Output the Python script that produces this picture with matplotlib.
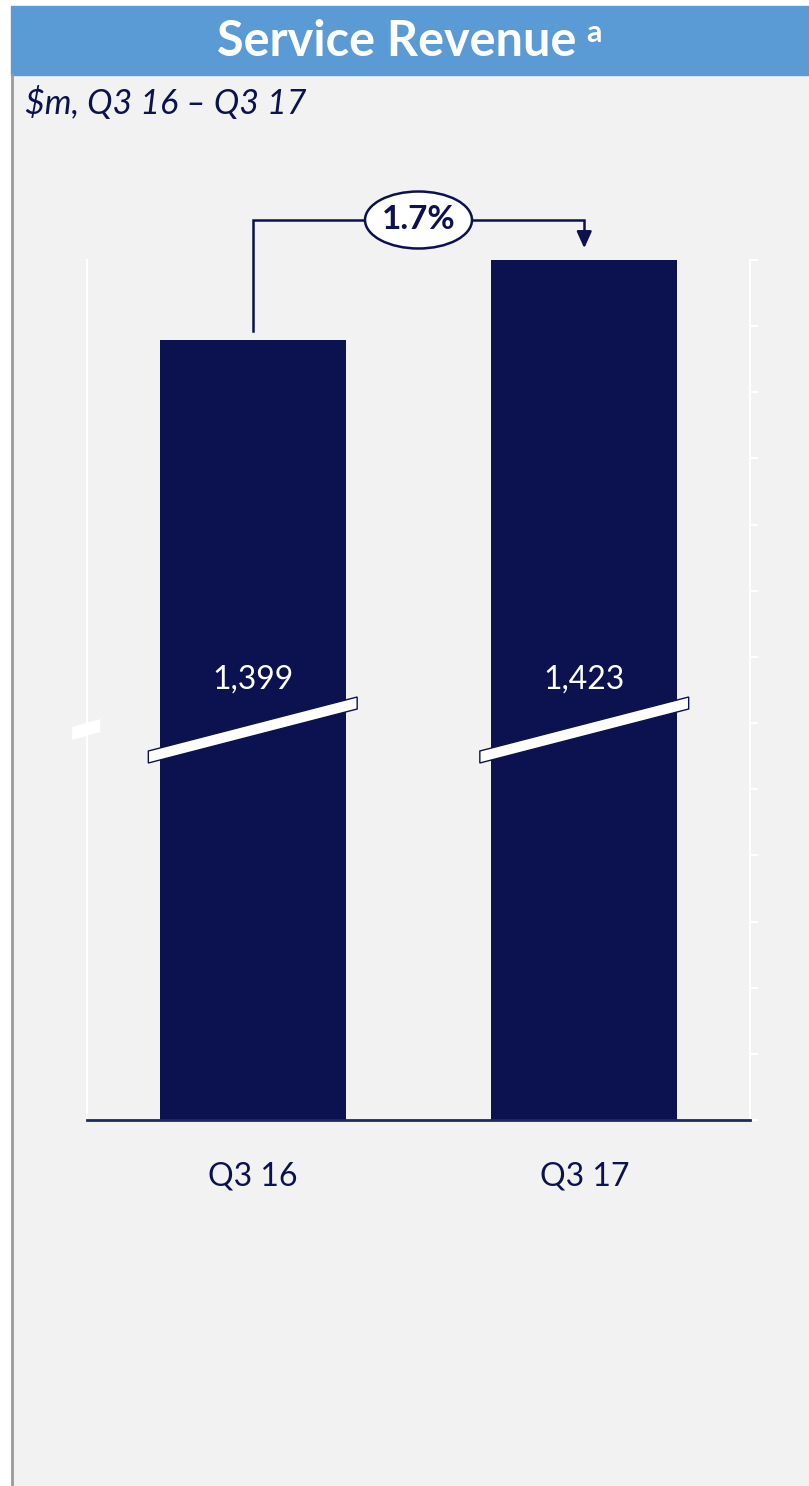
import numpy as np
import matplotlib.pyplot as plt
from matplotlib.patches import Rectangle, Ellipse, Polygon

plt.rcParams['font.family'] = ['Lato', 'DejaVu Sans']

# Service revenue, $m
quarters = ['Q3 16', 'Q3 17']
revenue = [1399, 1423]
value_labels = ['1,399', '1,423']

navy = '#0C1150'
header_blue = '#5B9BD5'
panel_grey = '#F2F2F2'

W, H = 809, 1486
fig = plt.figure(figsize=(W / 100, H / 100), dpi=100, facecolor='white')

# panel background, header bar and left border (kept behind the axes)
fig.patches.append(Rectangle((11 / W, 0), 1 - 11 / W, 1 - 75 / H,
                             transform=fig.transFigure, color=panel_grey, zorder=-3))
fig.patches.append(Rectangle((11 / W, 1 - 75 / H), 1 - 11 / W, 69 / H,
                             transform=fig.transFigure, color=header_blue, zorder=-3))
fig.lines.append(plt.Line2D([11.5 / W, 11.5 / W], [0, 1 - 75 / H], transform=fig.transFigure,
                            color='#9A9A9A', lw=2, zorder=-2))

fig.text(397 / W, 1 - 41 / H, 'Service Revenue', color='white', fontsize=35,
         fontweight='bold', ha='center', va='center')
fig.text(594 / W, 1 - 33 / H, 'a', color='white', fontsize=22,
         fontweight='bold', ha='center', va='center')
fig.text(25 / W, 1 - 103 / H, '$m, Q3 16 – Q3 17', color=navy, fontsize=24.5,
         fontstyle='italic', ha='left', va='center')

ax = fig.add_axes([87 / W, 1 - 1120 / H, 663 / W, 860 / H])
ax.set_facecolor('none')

# broken axis: bottom of the scale starts well above zero
y_lo, y_hi = 1165, 1423
ax.set_xlim(-0.5, 1.5)
ax.set_ylim(y_lo, y_hi)
x = np.arange(len(quarters))
bar_w = 0.56
ax.bar(x, revenue, width=bar_w, color=navy, zorder=2)

ax.set_xticks(x)
ax.set_xticklabels(quarters, fontsize=23, color=navy)
ax.tick_params(axis='x', length=0, pad=30)

ax.spines['top'].set_visible(False)
ax.spines['left'].set_color('white')
ax.spines['left'].set_linewidth(1.5)
ax.spines['right'].set_color('white')
ax.spines['right'].set_linewidth(1.5)
ax.spines['bottom'].set_color('#1F2A5C')
ax.spines['bottom'].set_linewidth(2)
ax.spines['bottom'].set_zorder(3)

ax.yaxis.set_ticks_position('right')
ax.set_yticks(np.linspace(y_lo, y_hi, 14))
ax.tick_params(axis='y', direction='out', length=6, width=1.5, color='white',
               labelright=False, labelleft=False)

span = y_hi - y_lo
# value labels and break marks across each bar
break_y = y_lo + span * (1120 - 736) / 860
slope = span * 54 / 860
for xi, lab in zip(x, value_labels):
    ax.text(xi, y_lo + span * (1120 - 680) / 860, lab, color='white', fontsize=23,
            ha='center', va='center', zorder=4)
    x0, x1 = xi - 0.315, xi + 0.315
    th = span * 12 / 860
    pts = [(x0, break_y - slope / 2), (x1, break_y + slope / 2),
           (x1, break_y + slope / 2 + th), (x0, break_y - slope / 2 + th)]
    ax.add_patch(Polygon(pts, closed=True, facecolor='white', edgecolor=navy,
                         lw=1, zorder=5, clip_on=False))

# break mark on the left axis
xl0, xl1 = -0.5 - 0.045, -0.5 + 0.04
by = y_lo + span * (1120 - 736) / 860
s2 = span * 8 / 860
th2 = span * 13 / 860
ax.add_patch(Polygon([(xl0, by - s2 / 2), (xl1, by + s2 / 2), (xl1, by + s2 / 2 + th2),
                      (xl0, by - s2 / 2 + th2)], closed=True, facecolor='white',
                     edgecolor='none', zorder=5, clip_on=False))

# growth bracket between the two bars
top_y = revenue[1] + span * 40 / 860
start_y = revenue[0] + span * 9 / 860
end_y = revenue[1] + span * 9 / 860
ax.plot([x[0], x[0], x[1], x[1]], [start_y, top_y, top_y, end_y + span * 14 / 860],
        color=navy, lw=1.8, clip_on=False, zorder=3, solid_joinstyle='miter')
ax.annotate('', xy=(x[1], end_y), xytext=(x[1], end_y + span * 16 / 860),
            arrowprops=dict(arrowstyle='-|>,head_width=0.45,head_length=1.0',
                            color=navy, lw=1.8), annotation_clip=False)
growth = (revenue[1] / revenue[0] - 1) * 100
mid = (x[0] + x[1]) / 2
ax.add_patch(Ellipse((mid, top_y), 107 / 663 * 2, span * 57 / 860, facecolor='white',
                     edgecolor=navy, lw=1.8, zorder=4, clip_on=False))
ax.text(mid, top_y, f'{growth:.1f}%', color=navy, fontsize=24, fontweight='bold',
        ha='center', va='center', zorder=5)

fig.savefig('out.png', dpi=100, facecolor=fig.get_facecolor())
